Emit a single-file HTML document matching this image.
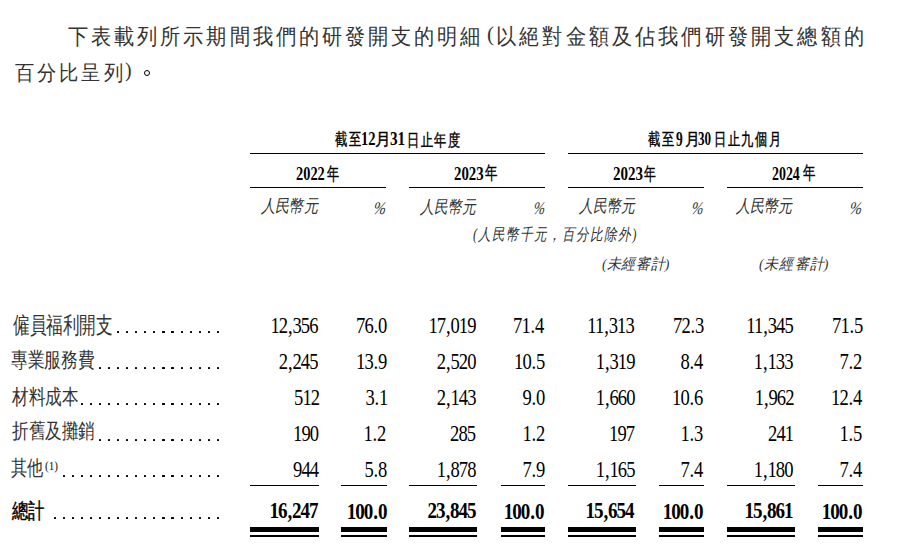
<!DOCTYPE html>
<html lang="zh-Hant"><head><meta charset="utf-8"><title>研發開支</title>
<style>
html,body{margin:0;padding:0;background:#fff}
body{width:902px;height:556px;position:relative;overflow:hidden;font-family:"Liberation Serif",serif;color:#000}
.t{position:absolute;white-space:nowrap;font-family:"Liberation Serif",serif}
.l{position:absolute}
.d{position:absolute;width:2.2px;height:2.2px;background:#000;border-radius:0.6px}
.c{position:absolute;box-sizing:border-box;border-style:solid;border-color:#000;border-radius:50%}
sup{font-size:1em;vertical-align:0}
.np{letter-spacing:0}
.pr{margin:0 0.93px}
.pb{margin:0 1.05px}
</style></head><body>
<div class="t" style="left:68.26px;top:26.60px;font-size:21.87px;line-height:21.87px;letter-spacing:3.08px;color:#333;transform:scaleX(0.9200);transform-origin:left top">下表載列所示期間我們的研發開支的明細</div>
<div class="t" style="left:487.22px;top:23.99px;font-size:20.93px;line-height:20.93px;color:#333;transform:scaleX(1.0043);transform-origin:left top">(</div>
<div class="t" style="left:495.96px;top:25.63px;font-size:21.97px;line-height:21.97px;letter-spacing:3.20px;color:#333;transform:scaleX(0.9200);transform-origin:left top">以絕對金額及佔我們研發開支總額的</div>
<div class="t" style="left:14.81px;top:63.04px;font-size:20.60px;line-height:20.60px;letter-spacing:3.09px;color:#333;transform:scaleX(0.9200);transform-origin:left top">百分比呈列</div>
<div class="t" style="left:124.97px;top:59.99px;font-size:21.77px;line-height:21.77px;color:#333;transform:scaleX(0.9093);transform-origin:left top">)</div>
<div class="c" style="left:144px;top:70px;width:6.2px;height:6.2px;border-width:1.2px"></div>
<div class="t" style="left:334.58px;top:132.18px;font-size:16.87px;line-height:16.87px;letter-spacing:2.96px;-webkit-text-stroke:0.4px currentColor;transform:scaleX(0.7200);transform-origin:left top">截至</div>
<div class="t" style="left:360.62px;top:129.30px;font-size:19.79px;line-height:19.79px;font-weight:bold;transform:scaleX(0.7346);transform-origin:left top">12</div>
<div class="t" style="left:375.24px;top:131.64px;font-size:16.87px;line-height:16.87px;-webkit-text-stroke:0.4px currentColor;transform:scaleX(0.9337);transform-origin:left top">月</div>
<div class="t" style="left:389.80px;top:129.40px;font-size:19.71px;line-height:19.71px;font-weight:bold;transform:scaleX(0.7736);transform-origin:left top">31</div>
<div class="t" style="left:406.77px;top:132.66px;font-size:16.87px;line-height:16.87px;letter-spacing:2.04px;-webkit-text-stroke:0.4px currentColor;transform:scaleX(0.7200);transform-origin:left top">日止年度</div>
<div class="t" style="left:648.38px;top:132.18px;font-size:16.69px;line-height:16.69px;letter-spacing:2.42px;-webkit-text-stroke:0.4px currentColor;transform:scaleX(0.7200);transform-origin:left top">截至</div>
<div class="t" style="left:675.55px;top:128.91px;font-size:20.19px;line-height:20.19px;font-weight:bold;transform:scaleX(0.6680);transform-origin:left top">9</div>
<div class="t" style="left:684.69px;top:131.64px;font-size:16.69px;line-height:16.69px;-webkit-text-stroke:0.4px currentColor;transform:scaleX(0.8802);transform-origin:left top">月</div>
<div class="t" style="left:697.60px;top:129.40px;font-size:19.71px;line-height:19.71px;font-weight:bold;transform:scaleX(0.6638);transform-origin:left top">30</div>
<div class="t" style="left:713.75px;top:131.76px;font-size:16.69px;line-height:16.69px;letter-spacing:2.08px;-webkit-text-stroke:0.4px currentColor;transform:scaleX(0.7200);transform-origin:left top">日止九個月</div>
<div class="l" style="left:250px;top:153px;width:295.00px;height:1px;background:#000"></div>
<div class="l" style="left:568px;top:153px;width:295.00px;height:1px;background:#000"></div>
<div class="t" style="left:296.24px;top:163.92px;font-size:19.06px;line-height:19.06px;font-weight:bold;transform:scaleX(0.7549);transform-origin:left top">2022</div>
<div class="t" style="left:327.04px;top:165.55px;font-size:17.79px;line-height:17.79px;-webkit-text-stroke:0.4px currentColor;transform:scaleX(0.6731);transform-origin:left top">年</div>
<div class="t" style="left:454.12px;top:164.00px;font-size:19.00px;line-height:19.00px;font-weight:bold;transform:scaleX(0.7823);transform-origin:left top">2023</div>
<div class="t" style="left:484.64px;top:165.49px;font-size:17.83px;line-height:17.83px;-webkit-text-stroke:0.4px currentColor;transform:scaleX(0.6898);transform-origin:left top">年</div>
<div class="t" style="left:613.08px;top:164.00px;font-size:19.00px;line-height:19.00px;font-weight:bold;transform:scaleX(0.7922);transform-origin:left top">2023</div>
<div class="t" style="left:644.49px;top:165.63px;font-size:17.79px;line-height:17.79px;-webkit-text-stroke:0.4px currentColor;transform:scaleX(0.6558);transform-origin:left top">年</div>
<div class="t" style="left:772.33px;top:163.84px;font-size:19.10px;line-height:19.10px;font-weight:bold;transform:scaleX(0.7275);transform-origin:left top">2024</div>
<div class="t" style="left:802.64px;top:165.49px;font-size:17.83px;line-height:17.83px;-webkit-text-stroke:0.4px currentColor;transform:scaleX(0.6898);transform-origin:left top">年</div>
<div class="l" style="left:250px;top:187px;width:136.00px;height:1px;background:#000"></div>
<div class="l" style="left:409px;top:187px;width:136.00px;height:1px;background:#000"></div>
<div class="l" style="left:568px;top:187px;width:136.00px;height:1px;background:#000"></div>
<div class="l" style="left:727px;top:187px;width:136.00px;height:1px;background:#000"></div>
<div class="t" style="left:260.77px;top:198.20px;font-size:17.84px;line-height:17.84px;font-style:italic;color:#333;transform:scaleX(0.7892);transform-origin:left top">人民幣元</div>
<div class="t" style="left:375.18px;top:199.93px;font-size:17.77px;line-height:17.77px;font-style:italic;color:#333;transform:scaleX(0.8334) skewX(-10deg);transform-origin:left top">%</div>
<div class="t" style="left:420.26px;top:198.87px;font-size:17.82px;line-height:17.82px;font-style:italic;color:#333;transform:scaleX(0.7690);transform-origin:left top">人民幣元</div>
<div class="t" style="left:534.70px;top:200.06px;font-size:17.70px;line-height:17.70px;font-style:italic;color:#333;transform:scaleX(0.7732) skewX(-10deg);transform-origin:left top">%</div>
<div class="t" style="left:578.92px;top:198.20px;font-size:17.84px;line-height:17.84px;font-style:italic;color:#333;transform:scaleX(0.7720);transform-origin:left top">人民幣元</div>
<div class="t" style="left:692.99px;top:200.04px;font-size:17.61px;line-height:17.61px;font-style:italic;color:#333;transform:scaleX(0.8075) skewX(-10deg);transform-origin:left top">%</div>
<div class="t" style="left:736.47px;top:198.20px;font-size:17.84px;line-height:17.84px;font-style:italic;color:#333;transform:scaleX(0.7851);transform-origin:left top">人民幣元</div>
<div class="t" style="left:851.08px;top:199.93px;font-size:17.77px;line-height:17.77px;font-style:italic;color:#333;transform:scaleX(0.8334) skewX(-10deg);transform-origin:left top">%</div>
<div class="t" style="left:473.12px;top:227.15px;font-size:16.55px;line-height:16.55px;letter-spacing:1.41px;font-style:italic;color:#333;transform:scaleX(0.7600);transform-origin:left top">(人民幣千元，百分比除外)</div>
<div class="t" style="left:601.77px;top:256.58px;font-size:15.08px;line-height:15.08px;letter-spacing:1.02px;font-style:italic;color:#333;transform:scaleX(0.9200);transform-origin:left top"><span class="np">(</span>未經審<span class="np">計)</span></div>
<div class="t" style="left:758.79px;top:256.58px;font-size:15.11px;line-height:15.11px;letter-spacing:1.79px;font-style:italic;color:#333;transform:scaleX(0.9200);transform-origin:left top"><span class="np">(</span>未經審<span class="np">計)</span></div>
<div class="t" style="left:12.71px;top:314.64px;font-size:22.52px;line-height:22.52px;color:#333;transform:scaleX(0.7219);transform-origin:left top">僱員福利開支</div>
<div class="t" style="left:11.28px;top:350.48px;font-size:21.45px;line-height:21.45px;color:#333;transform:scaleX(0.7930);transform-origin:left top">專業服務費</div>
<div class="t" style="left:12.30px;top:386.57px;font-size:21.29px;line-height:21.29px;color:#333;transform:scaleX(0.7903);transform-origin:left top">材料成本</div>
<div class="t" style="left:11.99px;top:421.40px;font-size:21.46px;line-height:21.46px;color:#333;transform:scaleX(0.7903);transform-origin:left top">折舊及攤銷</div>
<div class="t" style="left:11.25px;top:457.93px;font-size:21.42px;line-height:21.42px;color:#333;transform:scaleX(0.7683);transform-origin:left top">其他</div>
<div class="t" style="left:44.88px;top:459.72px;font-size:12.61px;line-height:12.61px;color:#111;transform:scaleX(0.8861);transform-origin:left top">(1)</div>
<div class="t" style="left:12.25px;top:500.59px;font-size:21.13px;line-height:21.13px;-webkit-text-stroke:0.4px currentColor;transform:scaleX(0.7839);transform-origin:left top">總計</div>
<div class="d" style="left:216.80px;top:330.60px"></div>
<div class="d" style="left:207.73px;top:330.60px"></div>
<div class="d" style="left:198.66px;top:330.60px"></div>
<div class="d" style="left:189.59px;top:330.60px"></div>
<div class="d" style="left:180.52px;top:330.60px"></div>
<div class="d" style="left:171.45px;top:330.60px"></div>
<div class="d" style="left:162.38px;top:330.60px"></div>
<div class="d" style="left:153.31px;top:330.60px"></div>
<div class="d" style="left:144.24px;top:330.60px"></div>
<div class="d" style="left:135.17px;top:330.60px"></div>
<div class="d" style="left:126.10px;top:330.60px"></div>
<div class="d" style="left:117.03px;top:330.60px"></div>
<div class="d" style="left:216.80px;top:366.60px"></div>
<div class="d" style="left:207.73px;top:366.60px"></div>
<div class="d" style="left:198.66px;top:366.60px"></div>
<div class="d" style="left:189.59px;top:366.60px"></div>
<div class="d" style="left:180.52px;top:366.60px"></div>
<div class="d" style="left:171.45px;top:366.60px"></div>
<div class="d" style="left:162.38px;top:366.60px"></div>
<div class="d" style="left:153.31px;top:366.60px"></div>
<div class="d" style="left:144.24px;top:366.60px"></div>
<div class="d" style="left:135.17px;top:366.60px"></div>
<div class="d" style="left:126.10px;top:366.60px"></div>
<div class="d" style="left:117.03px;top:366.60px"></div>
<div class="d" style="left:107.96px;top:366.60px"></div>
<div class="d" style="left:98.89px;top:366.60px"></div>
<div class="d" style="left:216.80px;top:402.60px"></div>
<div class="d" style="left:207.73px;top:402.60px"></div>
<div class="d" style="left:198.66px;top:402.60px"></div>
<div class="d" style="left:189.59px;top:402.60px"></div>
<div class="d" style="left:180.52px;top:402.60px"></div>
<div class="d" style="left:171.45px;top:402.60px"></div>
<div class="d" style="left:162.38px;top:402.60px"></div>
<div class="d" style="left:153.31px;top:402.60px"></div>
<div class="d" style="left:144.24px;top:402.60px"></div>
<div class="d" style="left:135.17px;top:402.60px"></div>
<div class="d" style="left:126.10px;top:402.60px"></div>
<div class="d" style="left:117.03px;top:402.60px"></div>
<div class="d" style="left:107.96px;top:402.60px"></div>
<div class="d" style="left:98.89px;top:402.60px"></div>
<div class="d" style="left:89.82px;top:402.60px"></div>
<div class="d" style="left:80.75px;top:402.60px"></div>
<div class="d" style="left:216.80px;top:438.60px"></div>
<div class="d" style="left:207.73px;top:438.60px"></div>
<div class="d" style="left:198.66px;top:438.60px"></div>
<div class="d" style="left:189.59px;top:438.60px"></div>
<div class="d" style="left:180.52px;top:438.60px"></div>
<div class="d" style="left:171.45px;top:438.60px"></div>
<div class="d" style="left:162.38px;top:438.60px"></div>
<div class="d" style="left:153.31px;top:438.60px"></div>
<div class="d" style="left:144.24px;top:438.60px"></div>
<div class="d" style="left:135.17px;top:438.60px"></div>
<div class="d" style="left:126.10px;top:438.60px"></div>
<div class="d" style="left:117.03px;top:438.60px"></div>
<div class="d" style="left:107.96px;top:438.60px"></div>
<div class="d" style="left:98.89px;top:438.60px"></div>
<div class="d" style="left:216.80px;top:474.60px"></div>
<div class="d" style="left:207.73px;top:474.60px"></div>
<div class="d" style="left:198.66px;top:474.60px"></div>
<div class="d" style="left:189.59px;top:474.60px"></div>
<div class="d" style="left:180.52px;top:474.60px"></div>
<div class="d" style="left:171.45px;top:474.60px"></div>
<div class="d" style="left:162.38px;top:474.60px"></div>
<div class="d" style="left:153.31px;top:474.60px"></div>
<div class="d" style="left:144.24px;top:474.60px"></div>
<div class="d" style="left:135.17px;top:474.60px"></div>
<div class="d" style="left:126.10px;top:474.60px"></div>
<div class="d" style="left:117.03px;top:474.60px"></div>
<div class="d" style="left:107.96px;top:474.60px"></div>
<div class="d" style="left:98.89px;top:474.60px"></div>
<div class="d" style="left:89.82px;top:474.60px"></div>
<div class="d" style="left:80.75px;top:474.60px"></div>
<div class="d" style="left:71.68px;top:474.60px"></div>
<div class="d" style="left:62.61px;top:474.60px"></div>
<div class="d" style="left:216.80px;top:516.70px"></div>
<div class="d" style="left:207.73px;top:516.70px"></div>
<div class="d" style="left:198.66px;top:516.70px"></div>
<div class="d" style="left:189.59px;top:516.70px"></div>
<div class="d" style="left:180.52px;top:516.70px"></div>
<div class="d" style="left:171.45px;top:516.70px"></div>
<div class="d" style="left:162.38px;top:516.70px"></div>
<div class="d" style="left:153.31px;top:516.70px"></div>
<div class="d" style="left:144.24px;top:516.70px"></div>
<div class="d" style="left:135.17px;top:516.70px"></div>
<div class="d" style="left:126.10px;top:516.70px"></div>
<div class="d" style="left:117.03px;top:516.70px"></div>
<div class="d" style="left:107.96px;top:516.70px"></div>
<div class="d" style="left:98.89px;top:516.70px"></div>
<div class="d" style="left:89.82px;top:516.70px"></div>
<div class="d" style="left:80.75px;top:516.70px"></div>
<div class="d" style="left:71.68px;top:516.70px"></div>
<div class="d" style="left:62.61px;top:516.70px"></div>
<div class="d" style="left:53.54px;top:516.70px"></div>
<div class="t" style="right:584.06px;top:315.00px;font-size:22.30px;line-height:22.30px;letter-spacing:-1.10px;transform:scaleX(0.8330);transform-origin:right top">12<span class="pr">,</span>356</div>
<div class="t" style="right:515.74px;top:315.00px;font-size:22.30px;line-height:22.30px;letter-spacing:-1.10px;transform:scaleX(0.8330);transform-origin:right top">76<span class="pr">.</span>0</div>
<div class="t" style="right:426.30px;top:315.00px;font-size:22.30px;line-height:22.30px;letter-spacing:-1.10px;transform:scaleX(0.8330);transform-origin:right top">17<span class="pr">,</span>019</div>
<div class="t" style="right:358.08px;top:315.00px;font-size:22.30px;line-height:22.30px;letter-spacing:-1.10px;transform:scaleX(0.8330);transform-origin:right top">71<span class="pr">.</span>4</div>
<div class="t" style="right:268.10px;top:315.00px;font-size:22.30px;line-height:22.30px;letter-spacing:-1.10px;transform:scaleX(0.8330);transform-origin:right top">11<span class="pr">,</span>313</div>
<div class="t" style="right:198.67px;top:315.00px;font-size:22.30px;line-height:22.30px;letter-spacing:-1.10px;transform:scaleX(0.8330);transform-origin:right top">72<span class="pr">.</span>3</div>
<div class="t" style="right:108.85px;top:315.00px;font-size:22.30px;line-height:22.30px;letter-spacing:-1.10px;transform:scaleX(0.8330);transform-origin:right top">11<span class="pr">,</span>345</div>
<div class="t" style="right:39.67px;top:315.00px;font-size:22.30px;line-height:22.30px;letter-spacing:-1.10px;transform:scaleX(0.8330);transform-origin:right top">71<span class="pr">.</span>5</div>
<div class="t" style="right:584.42px;top:351.00px;font-size:22.30px;line-height:22.30px;letter-spacing:-1.10px;transform:scaleX(0.8330);transform-origin:right top">2<span class="pr">,</span>245</div>
<div class="t" style="right:515.45px;top:351.00px;font-size:22.30px;line-height:22.30px;letter-spacing:-1.10px;transform:scaleX(0.8330);transform-origin:right top">13<span class="pr">.</span>9</div>
<div class="t" style="right:426.54px;top:351.00px;font-size:22.30px;line-height:22.30px;letter-spacing:-1.10px;transform:scaleX(0.8330);transform-origin:right top">2<span class="pr">,</span>520</div>
<div class="t" style="right:357.17px;top:351.00px;font-size:22.30px;line-height:22.30px;letter-spacing:-1.10px;transform:scaleX(0.8330);transform-origin:right top">10<span class="pr">.</span>5</div>
<div class="t" style="right:267.30px;top:351.00px;font-size:22.30px;line-height:22.30px;letter-spacing:-1.10px;transform:scaleX(0.8330);transform-origin:right top">1<span class="pr">,</span>319</div>
<div class="t" style="right:199.58px;top:350.95px;font-size:22.30px;line-height:22.30px;letter-spacing:-1.10px;transform:scaleX(0.8330);transform-origin:right top">8<span class="pr">.</span>4</div>
<div class="t" style="right:109.07px;top:351.00px;font-size:22.30px;line-height:22.30px;letter-spacing:-1.10px;transform:scaleX(0.8330);transform-origin:right top">1<span class="pr">,</span>133</div>
<div class="t" style="right:40.19px;top:351.00px;font-size:22.30px;line-height:22.30px;letter-spacing:-1.10px;transform:scaleX(0.8330);transform-origin:right top">7<span class="pr">.</span>2</div>
<div class="t" style="right:583.20px;top:387.00px;font-size:22.30px;line-height:22.30px;letter-spacing:-1.10px;transform:scaleX(0.8330);transform-origin:right top">512</div>
<div class="t" style="right:514.90px;top:387.00px;font-size:22.30px;line-height:22.30px;letter-spacing:-1.10px;transform:scaleX(0.8330);transform-origin:right top">3<span class="pr">.</span>1</div>
<div class="t" style="right:426.32px;top:387.00px;font-size:22.30px;line-height:22.30px;letter-spacing:-1.10px;transform:scaleX(0.8330);transform-origin:right top">2<span class="pr">,</span>143</div>
<div class="t" style="right:357.34px;top:386.79px;font-size:22.30px;line-height:22.30px;letter-spacing:-1.10px;transform:scaleX(0.8330);transform-origin:right top">9<span class="pr">.</span>0</div>
<div class="t" style="right:267.54px;top:386.84px;font-size:22.30px;line-height:22.30px;letter-spacing:-1.10px;transform:scaleX(0.8330);transform-origin:right top">1<span class="pr">,</span>660</div>
<div class="t" style="right:199.49px;top:386.98px;font-size:22.30px;line-height:22.30px;letter-spacing:-1.10px;transform:scaleX(0.8330);transform-origin:right top">10<span class="pr">.</span>6</div>
<div class="t" style="right:108.90px;top:386.98px;font-size:22.30px;line-height:22.30px;letter-spacing:-1.10px;transform:scaleX(0.8330);transform-origin:right top">1<span class="pr">,</span>962</div>
<div class="t" style="right:40.58px;top:386.95px;font-size:22.30px;line-height:22.30px;letter-spacing:-1.10px;transform:scaleX(0.8330);transform-origin:right top">12<span class="pr">.</span>4</div>
<div class="t" style="right:584.07px;top:422.79px;font-size:22.30px;line-height:22.30px;letter-spacing:-1.10px;transform:scaleX(0.8330);transform-origin:right top">190</div>
<div class="t" style="right:516.09px;top:422.95px;font-size:22.30px;line-height:22.30px;letter-spacing:-1.10px;transform:scaleX(0.8330);transform-origin:right top">1<span class="pr">.</span>2</div>
<div class="t" style="right:426.85px;top:423.00px;font-size:22.30px;line-height:22.30px;letter-spacing:-1.10px;transform:scaleX(0.8330);transform-origin:right top">285</div>
<div class="t" style="right:357.69px;top:422.95px;font-size:22.30px;line-height:22.30px;letter-spacing:-1.10px;transform:scaleX(0.8330);transform-origin:right top">1<span class="pr">.</span>2</div>
<div class="t" style="right:267.98px;top:423.00px;font-size:22.30px;line-height:22.30px;letter-spacing:-1.10px;transform:scaleX(0.8330);transform-origin:right top">197</div>
<div class="t" style="right:199.67px;top:423.00px;font-size:22.30px;line-height:22.30px;letter-spacing:-1.10px;transform:scaleX(0.8330);transform-origin:right top">1<span class="pr">.</span>3</div>
<div class="t" style="right:108.54px;top:422.95px;font-size:22.30px;line-height:22.30px;letter-spacing:-1.10px;transform:scaleX(0.8330);transform-origin:right top">241</div>
<div class="t" style="right:40.67px;top:423.00px;font-size:22.30px;line-height:22.30px;letter-spacing:-1.10px;transform:scaleX(0.8330);transform-origin:right top">1<span class="pr">.</span>5</div>
<div class="t" style="right:584.28px;top:458.98px;font-size:22.30px;line-height:22.30px;letter-spacing:-1.10px;transform:scaleX(0.8330);transform-origin:right top">944</div>
<div class="t" style="right:515.69px;top:459.00px;font-size:22.30px;line-height:22.30px;letter-spacing:-1.10px;transform:scaleX(0.8330);transform-origin:right top">5<span class="pr">.</span>8</div>
<div class="t" style="right:426.32px;top:459.00px;font-size:22.30px;line-height:22.30px;letter-spacing:-1.10px;transform:scaleX(0.8330);transform-origin:right top">1<span class="pr">,</span>878</div>
<div class="t" style="right:358.05px;top:459.00px;font-size:22.30px;line-height:22.30px;letter-spacing:-1.10px;transform:scaleX(0.8330);transform-origin:right top">7<span class="pr">.</span>9</div>
<div class="t" style="right:267.32px;top:459.00px;font-size:22.30px;line-height:22.30px;letter-spacing:-1.10px;transform:scaleX(0.8330);transform-origin:right top">1<span class="pr">,</span>165</div>
<div class="t" style="right:199.58px;top:459.00px;font-size:22.30px;line-height:22.30px;letter-spacing:-1.10px;transform:scaleX(0.8330);transform-origin:right top">7<span class="pr">.</span>4</div>
<div class="t" style="right:109.29px;top:458.98px;font-size:22.30px;line-height:22.30px;letter-spacing:-1.10px;transform:scaleX(0.8330);transform-origin:right top">1<span class="pr">,</span>180</div>
<div class="t" style="right:40.58px;top:459.00px;font-size:22.30px;line-height:22.30px;letter-spacing:-1.10px;transform:scaleX(0.8330);transform-origin:right top">7<span class="pr">.</span>4</div>
<div class="t" style="right:584.22px;top:500.40px;font-size:22.80px;line-height:22.80px;letter-spacing:-1.20px;font-weight:bold;transform:scaleX(0.8350);transform-origin:right top">16<span class="pb">,</span>247</div>
<div class="t" style="right:515.77px;top:501.16px;font-size:22.80px;line-height:22.80px;letter-spacing:-1.20px;font-weight:bold;transform:scaleX(0.8350);transform-origin:right top">100<span class="pb">.</span>0</div>
<div class="t" style="right:426.37px;top:500.40px;font-size:22.80px;line-height:22.80px;letter-spacing:-1.20px;font-weight:bold;transform:scaleX(0.8350);transform-origin:right top">23<span class="pb">,</span>845</div>
<div class="t" style="right:358.37px;top:501.16px;font-size:22.80px;line-height:22.80px;letter-spacing:-1.20px;font-weight:bold;transform:scaleX(0.8350);transform-origin:right top">100<span class="pb">.</span>0</div>
<div class="t" style="right:268.26px;top:500.40px;font-size:22.80px;line-height:22.80px;letter-spacing:-1.20px;font-weight:bold;transform:scaleX(0.8350);transform-origin:right top">15<span class="pb">,</span>654</div>
<div class="t" style="right:199.87px;top:501.16px;font-size:22.80px;line-height:22.80px;letter-spacing:-1.20px;font-weight:bold;transform:scaleX(0.8350);transform-origin:right top">100<span class="pb">.</span>0</div>
<div class="t" style="right:108.92px;top:500.40px;font-size:22.80px;line-height:22.80px;letter-spacing:-1.20px;font-weight:bold;transform:scaleX(0.8350);transform-origin:right top">15<span class="pb">,</span>861</div>
<div class="t" style="right:40.87px;top:501.16px;font-size:22.80px;line-height:22.80px;letter-spacing:-1.20px;font-weight:bold;transform:scaleX(0.8350);transform-origin:right top">100<span class="pb">.</span>0</div>
<div class="l" style="left:250px;top:485px;width:68.50px;height:1px;background:#000"></div>
<div class="l" style="left:250px;top:527px;width:68.50px;height:4.6px;background:#000"></div>
<div class="l" style="left:250px;top:535px;width:68.50px;height:1.6px;background:#000"></div>
<div class="l" style="left:341px;top:485px;width:45.50px;height:1px;background:#000"></div>
<div class="l" style="left:341px;top:527px;width:45.50px;height:4.6px;background:#000"></div>
<div class="l" style="left:341px;top:535px;width:45.50px;height:1.6px;background:#000"></div>
<div class="l" style="left:409.25px;top:485px;width:67.95px;height:1px;background:#000"></div>
<div class="l" style="left:409.25px;top:527px;width:67.95px;height:4.6px;background:#000"></div>
<div class="l" style="left:409.25px;top:535px;width:67.95px;height:1.6px;background:#000"></div>
<div class="l" style="left:500.5px;top:485px;width:44.50px;height:1px;background:#000"></div>
<div class="l" style="left:500.5px;top:527px;width:44.50px;height:4.6px;background:#000"></div>
<div class="l" style="left:500.5px;top:535px;width:44.50px;height:1.6px;background:#000"></div>
<div class="l" style="left:568px;top:485px;width:68.25px;height:1px;background:#000"></div>
<div class="l" style="left:568px;top:527px;width:68.25px;height:4.6px;background:#000"></div>
<div class="l" style="left:568px;top:535px;width:68.25px;height:1.6px;background:#000"></div>
<div class="l" style="left:658.75px;top:485px;width:45.25px;height:1px;background:#000"></div>
<div class="l" style="left:658.75px;top:527px;width:45.25px;height:4.6px;background:#000"></div>
<div class="l" style="left:658.75px;top:535px;width:45.25px;height:1.6px;background:#000"></div>
<div class="l" style="left:727px;top:485px;width:68.00px;height:1px;background:#000"></div>
<div class="l" style="left:727px;top:527px;width:68.00px;height:4.6px;background:#000"></div>
<div class="l" style="left:727px;top:535px;width:68.00px;height:1.6px;background:#000"></div>
<div class="l" style="left:817.75px;top:485px;width:45.25px;height:1px;background:#000"></div>
<div class="l" style="left:817.75px;top:527px;width:45.25px;height:4.6px;background:#000"></div>
<div class="l" style="left:817.75px;top:535px;width:45.25px;height:1.6px;background:#000"></div>
</body></html>
